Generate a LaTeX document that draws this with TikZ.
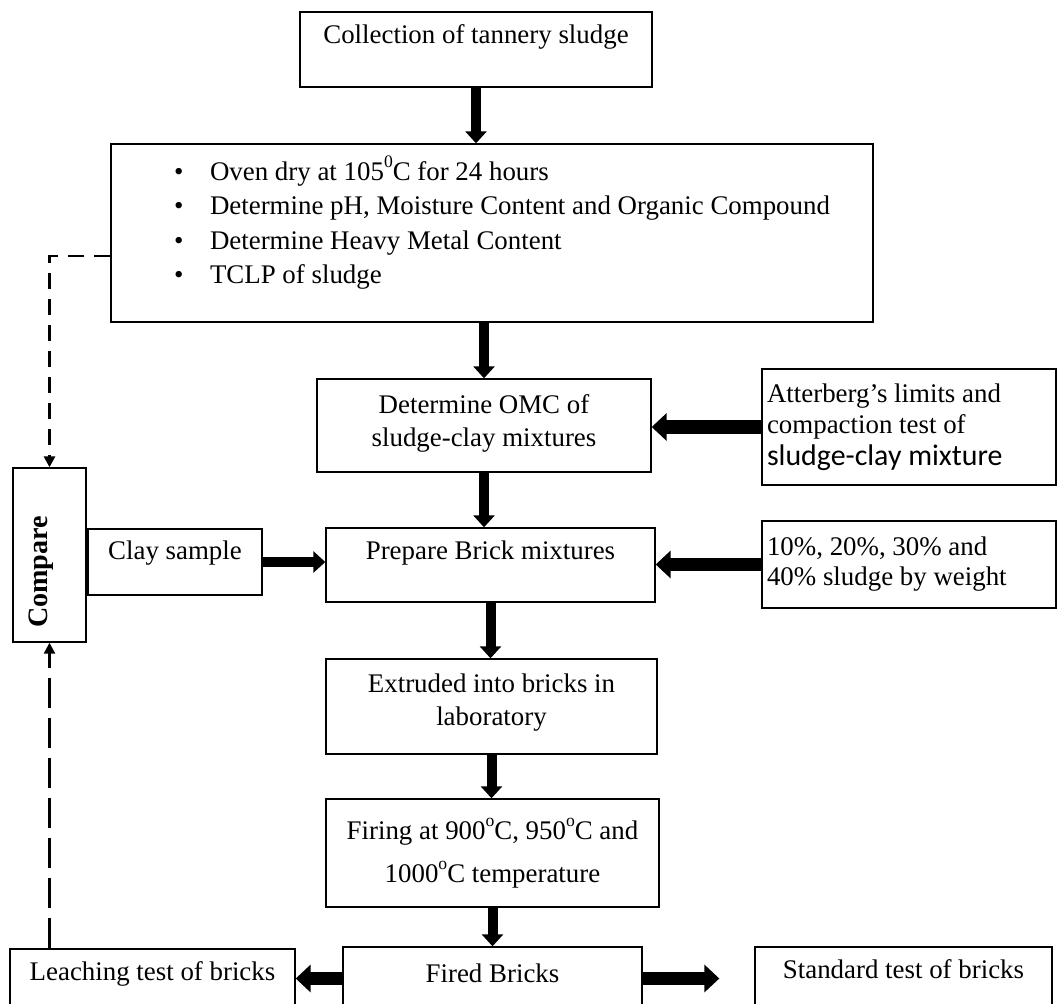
\documentclass[tikz,border=0pt]{standalone}
\usepackage{fontspec}
\setmainfont{Liberation Serif}
\newfontfamily\calib{Carlito}
\usepackage{tikz}
\usetikzlibrary{positioning,arrows.meta,calc}
\newcommand{\itm}{\hspace*{1.26cm}\makebox[0.72cm][l]{\textbullet}}
\newcommand{\degmark}[1]{\raisebox{1.05ex}{\fontsize{10}{10}\selectfont #1}}

\begin{document}
\begin{tikzpicture}[x=0.02cm,y=-0.02cm,
  blk/.style={draw,line width=0.8pt,align=center,inner sep=0pt,font=\fontsize{15.3}{18.8}\selectfont},
  flow/.style={line width=0.2cm,-{Triangle[length=0.24cm,width=0.42cm]}},
  bigflow/.style={line width=0.27cm,-{Triangle[length=0.3cm,width=0.54cm]}},
  dsh/.style={line width=1.7pt,dash pattern=on 0.32cm off 0.2cm,-{Triangle[length=0.22cm,width=0.22cm]}},
  dshlong/.style={line width=1.3pt,dash pattern=on 0.6cm off 0.2cm,-{Triangle[length=0.22cm,width=0.22cm]}},
]
\useasboundingbox (0,0) rectangle (1057,1003);
% main column
\node[blk,minimum width=7.04cm,minimum height=1.5cm,text depth=18pt] (coll) at (476,49.5)
  {Collection of tannery sludge};
\node[blk,minimum height=3.56cm,text width=15.24cm,align=flush left,text depth=74pt,
  font=\fontsize{15.3}{19.6}\selectfont] (oven) at (492,233)
  {\itm Oven dry at 105\degmark{0}C for 24 hours\\
   \itm Determine pH, Moisture Content and Organic Compound\\
   \itm Determine Heavy Metal Content\\
   \itm TCLP of sludge};
\node[blk,minimum width=6.68cm,minimum height=1.86cm,text depth=6pt] (omc) at (484,425.5)
  {Determine OMC of\\sludge-clay mixtures};
\node[blk,minimum width=6.58cm,minimum height=1.48cm,text depth=17pt] (prep) at (490.5,565) {Prepare Brick mixtures};
\node[blk,minimum width=6.62cm,minimum height=1.9cm,text depth=8pt] (extr) at (491.5,706.5)
  {Extruded into bricks in\\laboratory};
\node[blk,minimum width=6.66cm,minimum height=2.16cm,font=\fontsize{15.3}{24.4}\selectfont] (fire) at (492.5,853)
  {Firing at 900\degmark{o}C, 950\degmark{o}C and\\1000\degmark{o}C temperature};
\node[blk,minimum width=5.98cm,minimum height=1.26cm,text depth=6pt] (fired) at (492.5,978.5) {Fired Bricks};
% side inputs
\node[blk,text width=5.68cm,inner xsep=0.1cm,minimum height=2.32cm,align=flush left,font=\fontsize{15.3}{17.9}\selectfont] (att) at (909,427)
  {Atterberg’s limits and\\compaction test of\\{\calib\fontsize{17}{17.9}\selectfont sludge-clay mixture}};
\node[blk,text width=5.68cm,inner xsep=0.1cm,minimum height=1.74cm,align=flush left,font=\fontsize{15.3}{17}\selectfont] (tests) at (909,564.5)
  {10\%, 20\%, 30\% and\\40\% sludge by weight};
\node[blk,minimum width=3.48cm,minimum height=1.32cm,text depth=13pt] (clay) at (175,562) {Clay sample};
% outputs
\node[blk,minimum width=5.7cm,minimum height=1.22cm,text depth=10pt] (leach) at (152.5,979.5) {Leaching test of bricks};
\node[blk,minimum width=5.94cm,minimum height=1.26cm,text depth=11pt] (std) at (903.5,978.5) {Standard test of bricks};
% compare box
\node[blk,minimum width=1.46cm,minimum height=3.48cm] (cmp) at (49.5,555) {};
\node[font=\fontsize{16}{16}\selectfont\bfseries,rotate=90] (cmplbl) at (41,572) {Compare};

% flow arrows
\draw[flow] (coll.south) -- (coll.south |- oven.north);
\draw[flow] (oven.south -| omc.north) -- (omc.north);
\draw[flow] (omc.south) -- (omc.south |- prep.north);
\draw[flow] (prep.south) -- (prep.south |- extr.north);
\draw[flow] (extr.south) -- (extr.south |- fire.north);
\draw[flow] (fire.south) -- (fire.south |- fired.north);
\draw[bigflow] (att.west) -- (att.west -| omc.east);
\draw[bigflow] (tests.west) -- (tests.west -| prep.east);
\draw[flow] (clay.east) -- (clay.east -| prep.west);
\draw[bigflow] (fired.west) -- (fired.west -| leach.east);
\draw[bigflow,shorten >=0.7cm] (fired.east) -- (fired.east -| std.west);
% comparison links
\draw[dsh] ([yshift=-0.46cm]oven.west) -| (cmp.north);
\draw[dshlong] (leach.north -| cmp.south) -- (cmp.south);
\end{tikzpicture}
\end{document}
